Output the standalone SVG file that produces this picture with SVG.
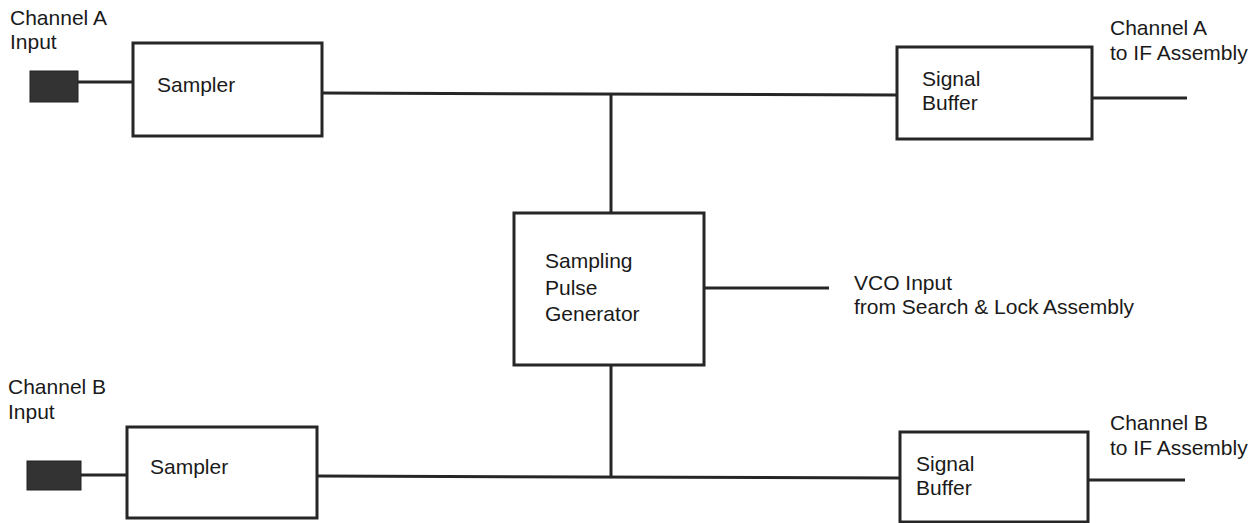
<svg xmlns="http://www.w3.org/2000/svg" width="1256" height="523" viewBox="0 0 1256 523">
<style>
.box{fill:#fff;stroke:#262626;stroke-width:3}
.port{fill:#333;stroke:#222;stroke-width:1}
.wire{stroke:#262626;stroke-width:3;fill:none}
text{font-family:"Liberation Sans",Arial,sans-serif;font-size:21px;fill:#1a1a1a}
</style>
<rect width="1256" height="523" fill="#fff"/>
<g id="connectors">
<line class="wire" x1="78" y1="82" x2="133" y2="82"/>
<line class="wire" x1="322" y1="93" x2="897" y2="95"/>
<line class="wire" x1="1092" y1="98" x2="1187" y2="98"/>
<line class="wire" x1="611" y1="93" x2="611" y2="213"/>
<line class="wire" x1="704" y1="288" x2="829" y2="288"/>
<line class="wire" x1="611" y1="365" x2="611" y2="477"/>
<line class="wire" x1="81" y1="475" x2="127" y2="475"/>
<line class="wire" x1="317" y1="476" x2="900" y2="478"/>
<line class="wire" x1="1088" y1="480" x2="1185" y2="480"/>
</g>
<g id="inputA">
<rect class="port" x="30" y="71" width="48" height="31"/>
<text x="10" y="25">Channel A</text>
<text x="10" y="49">Input</text>
</g>
<g id="samplerA">
<rect class="box" x="133" y="43" width="189" height="93"/>
<text x="157" y="92">Sampler</text>
</g>
<g id="bufferA">
<rect class="box" x="897" y="47" width="195" height="92"/>
<text x="922" y="86">Signal</text>
<text x="922" y="110">Buffer</text>
</g>
<g id="outputA">
<text x="1110" y="35">Channel A</text>
<text x="1110" y="60">to IF Assembly</text>
</g>
<g id="pulseGen">
<rect class="box" x="514" y="213" width="190" height="152"/>
<text x="545" y="268">Sampling</text>
<text x="545" y="295">Pulse</text>
<text x="545" y="321">Generator</text>
</g>
<g id="vco">
<text x="854" y="290">VCO Input</text>
<text x="854" y="314">from Search &amp; Lock Assembly</text>
</g>
<g id="inputB">
<rect class="port" x="27" y="461" width="54" height="29"/>
<text x="8" y="394">Channel B</text>
<text x="8" y="419">Input</text>
</g>
<g id="samplerB">
<rect class="box" x="127" y="427" width="190" height="91"/>
<text x="150" y="474">Sampler</text>
</g>
<g id="bufferB">
<rect class="box" x="900" y="432" width="188" height="90"/>
<text x="916" y="471">Signal</text>
<text x="916" y="495">Buffer</text>
</g>
<g id="outputB">
<text x="1110" y="430">Channel B</text>
<text x="1110" y="455">to IF Assembly</text>
</g>
</svg>
